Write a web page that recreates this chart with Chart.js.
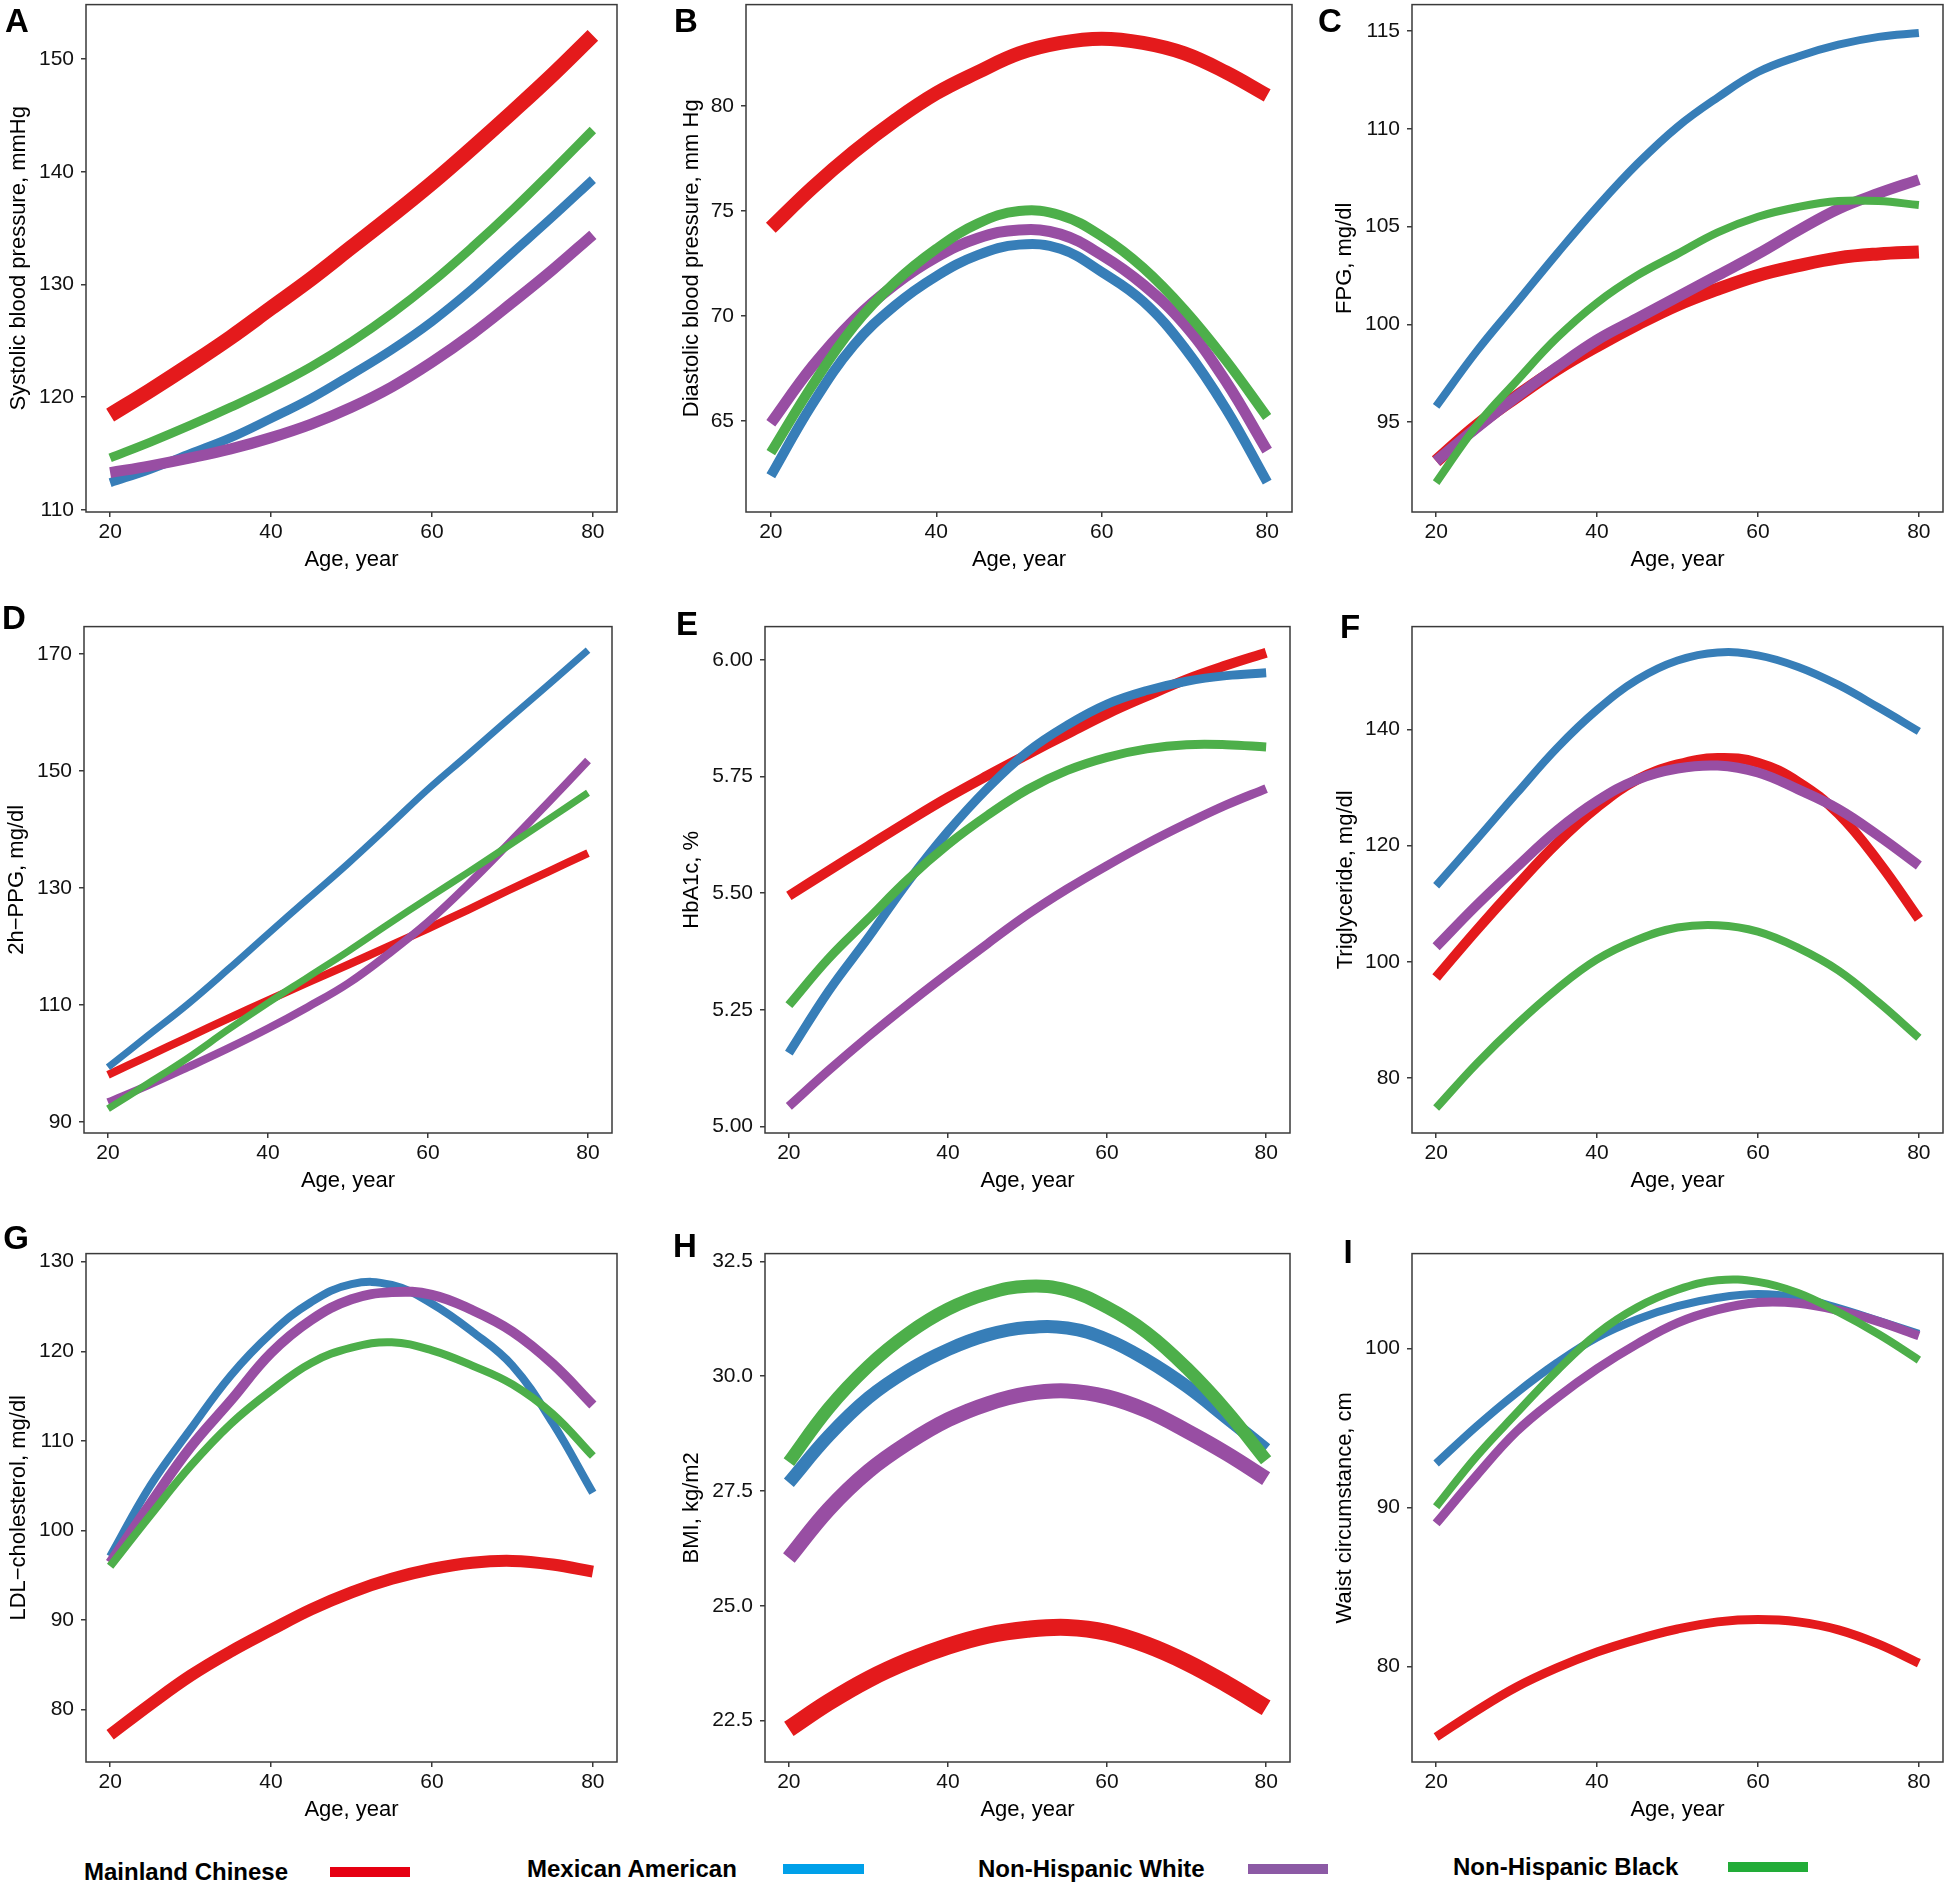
<!DOCTYPE html>
<html>
<head>
<meta charset="utf-8">
<script src="https://cdn.jsdelivr.net/npm/chart.js@4.4.1/dist/chart.umd.min.js"></script>
<style>
  html, body { margin: 0; padding: 0; background: #fff; }
  body { width: 1945px; height: 1884px; position: relative; overflow: hidden; font-family: "Liberation Sans", Arial, sans-serif; }
  canvas { position: absolute; }
  .tag { position: absolute; font-weight: bold; font-size: 33px; line-height: 1; transform: translate(-50%, -50%); color: #000; }
  .key { position: absolute; font-weight: bold; font-size: 24px; line-height: 1; transform: translateY(-50%); color: #000; white-space: nowrap; }
  .bar { position: absolute; height: 10px; transform: translateY(-50%); }
</style>
</head>
<body>
<script>
// predicted values, every 5 years of age
const ages = [20, 25, 30, 35, 40, 45, 50, 55, 60, 65, 70, 75, 80];
const ageTicks = [20, 40, 60, 80];

const groups = ['Mainland Chinese', 'Mexican American', 'Non-Hispanic White', 'Non-Hispanic Black'];

// A systolic BP
const sbpChinese = [118.4, 120.6, 122.9, 125.3, 127.9, 130.5, 133.3, 136.1, 139.0, 142.1, 145.3, 148.6, 152.1];
const sbpMexican = [112.4, 113.6, 115.0, 116.4, 118.1, 119.9, 122.0, 124.2, 126.7, 129.6, 132.8, 136.0, 139.3];
const sbpWhite   = [113.3, 113.9, 114.6, 115.4, 116.4, 117.6, 119.1, 120.9, 123.1, 125.6, 128.4, 131.3, 134.4];
const sbpBlack   = [114.6, 116.0, 117.5, 119.1, 120.8, 122.7, 124.9, 127.4, 130.2, 133.3, 136.6, 140.1, 143.7];
const sbpTicks = [110, 120, 130, 140, 150];

// B diastolic BP
const dbpChinese = [74.2, 76.1, 77.8, 79.3, 80.6, 81.6, 82.5, 83.0, 83.2, 83.0, 82.5, 81.6, 80.5];
const dbpMexican = [62.4, 65.8, 68.6, 70.5, 71.9, 72.9, 73.4, 73.2, 72.1, 70.7, 68.5, 65.6, 62.1];
const dbpWhite   = [64.9, 67.6, 69.8, 71.5, 72.8, 73.7, 74.1, 73.9, 72.9, 71.5, 69.6, 66.9, 63.6];
const dbpBlack   = [63.5, 66.7, 69.5, 71.6, 73.2, 74.4, 75.0, 74.8, 73.8, 72.3, 70.3, 67.9, 65.2];
const dbpTicks = [65, 70, 75, 80];

// C FPG
const fpgChinese = [93.0, 94.8, 96.3, 97.7, 98.9, 100.0, 101.0, 101.8, 102.5, 103.0, 103.4, 103.6, 103.7];
const fpgMexican = [95.8, 98.6, 101.1, 103.6, 106.0, 108.2, 110.1, 111.6, 112.9, 113.7, 114.3, 114.7, 114.9];
const fpgWhite   = [93.0, 94.7, 96.3, 97.8, 99.2, 100.3, 101.4, 102.5, 103.6, 104.8, 105.9, 106.7, 107.4];
const fpgBlack   = [91.9, 94.8, 97.1, 99.3, 101.1, 102.5, 103.6, 104.7, 105.5, 106.0, 106.3, 106.3, 106.1];
const fpgTicks = [95, 100, 105, 110, 115];

// D 2h-PPG
const ppgChinese = [98.1, 101.3, 104.5, 107.7, 110.8, 113.9, 116.9, 120.0, 123.1, 126.3, 129.6, 132.8, 136.0];
const ppgMexican = [99.4, 104.8, 110.2, 116.1, 122.2, 128.2, 134.2, 140.5, 146.9, 152.8, 158.8, 164.7, 170.7];
const ppgWhite   = [93.4, 96.3, 99.4, 102.6, 106.0, 109.7, 113.7, 118.7, 124.2, 130.6, 137.5, 144.6, 151.8];
const ppgBlack   = [92.3, 96.6, 101.0, 105.8, 110.4, 114.8, 119.2, 123.8, 128.3, 132.7, 137.2, 141.7, 146.3];
const ppgTicks = [90, 110, 130, 150, 170];

// E HbA1c
const hbaChinese = [5.494, 5.548, 5.601, 5.654, 5.705, 5.752, 5.797, 5.841, 5.884, 5.922, 5.958, 5.988, 6.015];
const hbaMexican = [5.157, 5.290, 5.405, 5.525, 5.632, 5.725, 5.803, 5.860, 5.905, 5.934, 5.954, 5.966, 5.972];
const hbaWhite   = [5.043, 5.120, 5.193, 5.262, 5.328, 5.392, 5.454, 5.509, 5.559, 5.606, 5.649, 5.689, 5.724];
const hbaBlack   = [5.260, 5.360, 5.445, 5.530, 5.604, 5.667, 5.722, 5.763, 5.791, 5.809, 5.818, 5.818, 5.813];
const hbaTicks = [5.00, 5.25, 5.50, 5.75, 6.00];
const hbaLabels = ['5.00', '5.25', '5.50', '5.75', '6.00'];

// F triglyceride
const tgChinese = [97.3, 105.4, 113.1, 120.4, 126.6, 131.4, 134.0, 135.1, 134.3, 131.0, 125.5, 117.2, 107.4];
const tgMexican = [113.1, 121.0, 129.0, 136.8, 143.4, 148.6, 151.9, 153.3, 152.8, 150.8, 147.7, 143.8, 139.7];
const tgWhite   = [102.6, 109.7, 116.3, 122.6, 127.7, 131.4, 133.3, 133.8, 132.6, 129.7, 126.3, 121.7, 116.6];
const tgBlack   = [74.8, 82.4, 89.2, 95.3, 100.4, 103.8, 105.9, 106.3, 105.2, 102.4, 98.5, 93.0, 86.9];
const tgTicks = [80, 100, 120, 140];

// G LDL-cholesterol
const ldlChinese = [77.2, 80.6, 83.8, 86.5, 88.9, 91.2, 93.1, 94.6, 95.7, 96.4, 96.6, 96.2, 95.4];
const ldlMexican = [97.1, 105.0, 111.3, 117.3, 122.0, 125.5, 127.5, 127.4, 125.3, 122.2, 118.4, 112.0, 104.2];
const ldlWhite   = [96.4, 103.0, 109.3, 114.5, 119.8, 123.5, 125.8, 126.6, 126.3, 124.6, 122.2, 118.6, 114.0];
const ldlBlack   = [96.0, 101.7, 107.2, 111.9, 115.6, 118.7, 120.4, 121.0, 120.1, 118.4, 116.3, 113.0, 108.3];
const ldlTicks = [80, 90, 100, 110, 120, 130];

// H BMI
const bmiChinese = [22.32, 22.90, 23.40, 23.80, 24.12, 24.36, 24.49, 24.53, 24.42, 24.15, 23.77, 23.30, 22.78];
const bmiMexican = [27.68, 28.70, 29.53, 30.13, 30.58, 30.90, 31.06, 31.05, 30.80, 30.35, 29.78, 29.10, 28.41];
const bmiWhite   = [26.04, 27.10, 27.93, 28.55, 29.05, 29.40, 29.62, 29.68, 29.55, 29.25, 28.81, 28.32, 27.77];
const bmiBlack   = [28.13, 29.30, 30.22, 30.93, 31.46, 31.80, 31.96, 31.87, 31.50, 30.95, 30.18, 29.25, 28.17];
const bmiTicks = [22.5, 25.0, 27.5, 30.0, 32.5];
const bmiLabels = ['22.5', '25.0', '27.5', '30.0', '32.5'];

// I waist
const waistChinese = [75.55, 77.2, 78.7, 79.9, 80.9, 81.7, 82.35, 82.8, 82.95, 82.8, 82.3, 81.4, 80.2];
const waistMexican = [92.77, 95.1, 97.22, 99.1, 100.7, 101.85, 102.67, 103.2, 103.43, 103.2, 102.55, 101.75, 100.93];
const waistWhite   = [89.0, 92.0, 94.79, 96.9, 98.73, 100.3, 101.62, 102.45, 102.9, 102.85, 102.4, 101.7, 100.81];
const waistBlack   = [90.05, 93.2, 95.94, 98.6, 100.93, 102.6, 103.7, 104.3, 104.2, 103.5, 102.3, 100.9, 99.28];
const waistTicks = [80, 90, 100];

// colours
const lineColors = ['#e41a1c', '#377eb8', '#984ea3', '#4daf4a'];
const keyColors = ['#e60012', '#00a0e9', '#8c5aa5', '#22ac38'];

Chart.defaults.font.family = '"Liberation Sans", Arial, sans-serif';

// panel layout in page pixels: plot box [left, top, right, bottom]
const panels = [
  { tag: 'A', tagAt: [17, 20], box: [86, 1, 617, 512], titleX: 19, title: 'Systolic blood pressure, mmHg',
    yr: [109.8, 154.83], ticks: sbpTicks, series: [sbpChinese, sbpMexican, sbpWhite, sbpBlack], widths: [15, 9, 11, 9] },
  { tag: 'B', tagAt: [686, 20], box: [746, 1, 1292, 512], titleX: 692, title: 'Diastolic blood pressure, mm Hg',
    yr: [60.68, 84.82], ticks: dbpTicks, series: [dbpChinese, dbpMexican, dbpWhite, dbpBlack], widths: [14, 10, 11, 10] },
  { tag: 'C', tagAt: [1330, 20], box: [1412, 1, 1943, 512], titleX: 1345, title: 'FPG, mg/dl',
    yr: [90.4, 116.35], ticks: fpgTicks, series: [fpgChinese, fpgMexican, fpgWhite, fpgBlack], widths: [13, 8, 11, 8] },
  { tag: 'D', tagAt: [14, 617], box: [84, 623, 612, 1133], titleX: 17, title: '2h\u2212PPG, mg/dl',
    yr: [88.15, 174.7], ticks: ppgTicks, series: [ppgChinese, ppgMexican, ppgWhite, ppgBlack], widths: [8, 7, 8, 7] },
  { tag: 'E', tagAt: [687, 623], box: [765, 623, 1290, 1133], titleX: 692, title: 'HbA1c, %',
    yr: [4.986, 6.071], ticks: hbaTicks, labels: hbaLabels, series: [hbaChinese, hbaMexican, hbaWhite, hbaBlack], widths: [10, 9, 9, 9] },
  { tag: 'F', tagAt: [1350, 626], box: [1412, 623, 1943, 1133], titleX: 1346, title: 'Triglyceride, mg/dl',
    yr: [70.5, 157.75], ticks: tgTicks, series: [tgChinese, tgMexican, tgWhite, tgBlack], widths: [10, 8, 10, 8] },
  { tag: 'G', tagAt: [16, 1237], box: [86, 1250, 617, 1762], titleX: 19, title: 'LDL\u2212cholesterol, mg/dl',
    yr: [74.16, 130.9], ticks: ldlTicks, series: [ldlChinese, ldlMexican, ldlWhite, ldlBlack], widths: [12, 8, 10, 8] },
  { tag: 'H', tagAt: [685, 1245], box: [765, 1250, 1290, 1762], titleX: 692, title: 'BMI, kg/m2',
    yr: [21.6, 32.67], ticks: bmiTicks, labels: bmiLabels, series: [bmiChinese, bmiMexican, bmiWhite, bmiBlack], widths: [17, 13, 15, 13] },
  { tag: 'I', tagAt: [1348, 1251], box: [1412, 1250, 1943, 1762], titleX: 1345, title: 'Waist circumstance, cm',
    yr: [73.98, 105.98], ticks: waistTicks, series: [waistChinese, waistMexican, waistWhite, waistBlack], widths: [9, 8, 9, 8] }
];

// box round the plot area, like the ggplot panel border
const framePlugin = {
  id: 'frame',
  afterDraw(chart) {
    const a = chart.chartArea;
    const ctx = chart.ctx;
    ctx.save();
    ctx.strokeStyle = '#3a3a3a';
    ctx.lineWidth = 1.5;
    ctx.strokeRect(a.left, a.top, a.right - a.left, a.bottom - a.top);
    ctx.restore();
  }
};

const TOP_PAD = 16, RIGHT_PAD = 16, TITLE_HALF = 13, BOTTOM_PAD = 61;

function drawPanel(p) {
  const [bl, bt, br, bb] = p.box;
  const left = Math.round(p.titleX - TITLE_HALF);
  const top = bt - TOP_PAD;
  const lpad = bl - left;
  const cv = document.createElement('canvas');
  cv.width = br - left + RIGHT_PAD;
  cv.height = bb - top + BOTTOM_PAD;
  cv.style.left = left + 'px';
  cv.style.top = top + 'px';
  document.body.appendChild(cv);

  const tickText = {};
  p.ticks.forEach((v, i) => { tickText[v] = p.labels ? p.labels[i] : String(v); });

  const tickGrid = { display: true, drawOnChartArea: false, drawTicks: true, tickLength: 5, color: '#3a3a3a', lineWidth: 1.5 };

  new Chart(cv, {
    type: 'line',
    data: {
      datasets: p.series.map((s, i) => ({
        label: groups[i],
        data: ages.map((a, k) => ({ x: a, y: s[k] })),
        borderColor: lineColors[i],
        backgroundColor: lineColors[i],
        borderWidth: p.widths[i],
        pointRadius: 0,
        tension: 0.4,
        borderCapStyle: 'butt',
        borderJoinStyle: 'round',
        fill: false,
        order: 4 - i   // red underneath, green on top
      }))
    },
    options: {
      responsive: false,
      animation: false,
      devicePixelRatio: 1,
      layout: { padding: { top: TOP_PAD, right: RIGHT_PAD, left: 0, bottom: 0 } },
      plugins: { legend: { display: false }, tooltip: { enabled: false } },
      scales: {
        x: {
          type: 'linear', min: 17, max: 83,
          afterBuildTicks: s => { s.ticks = ageTicks.map(v => ({ value: v })); },
          afterFit: s => { s.height = BOTTOM_PAD; },
          grid: tickGrid,
          border: { display: false },
          ticks: { autoSkip: false, maxRotation: 0, padding: 3, color: '#111', font: { size: 21 } },
          title: { display: true, text: 'Age, year', color: '#000', font: { size: 22 }, padding: 0 }
        },
        y: {
          type: 'linear', min: p.yr[0], max: p.yr[1],
          afterBuildTicks: s => { s.ticks = p.ticks.map(v => ({ value: v })); },
          afterFit: s => { s.width = lpad; },
          grid: tickGrid,
          border: { display: false },
          ticks: { autoSkip: false, padding: 7, color: '#111', font: { size: 21 },
                   callback: v => tickText[v] },
          title: { display: true, text: p.title, color: '#000', font: { size: 22 }, padding: 0 }
        }
      }
    },
    plugins: [framePlugin]
  });

  const tag = document.createElement('div');
  tag.className = 'tag';
  tag.textContent = p.tag;
  tag.style.left = p.tagAt[0] + 'px';
  tag.style.top = p.tagAt[1] + 'px';
  document.body.appendChild(tag);
}

panels.forEach(drawPanel);

// legend row along the bottom
const keyText = [[84, 1872], [527, 1869], [978, 1869], [1453, 1867]];
const keyBars = [[330, 80], [783, 81], [1248, 80], [1728, 80]];
groups.forEach((g, i) => {
  const t = document.createElement('div');
  t.className = 'key';
  t.textContent = g;
  t.style.left = keyText[i][0] + 'px';
  t.style.top = keyText[i][1] + 'px';
  document.body.appendChild(t);
  const b = document.createElement('div');
  b.className = 'bar';
  b.style.left = keyBars[i][0] + 'px';
  b.style.width = keyBars[i][1] + 'px';
  b.style.top = keyText[i][1] + 'px';
  b.style.background = keyColors[i];
  document.body.appendChild(b);
});
</script>
</body>
</html>
